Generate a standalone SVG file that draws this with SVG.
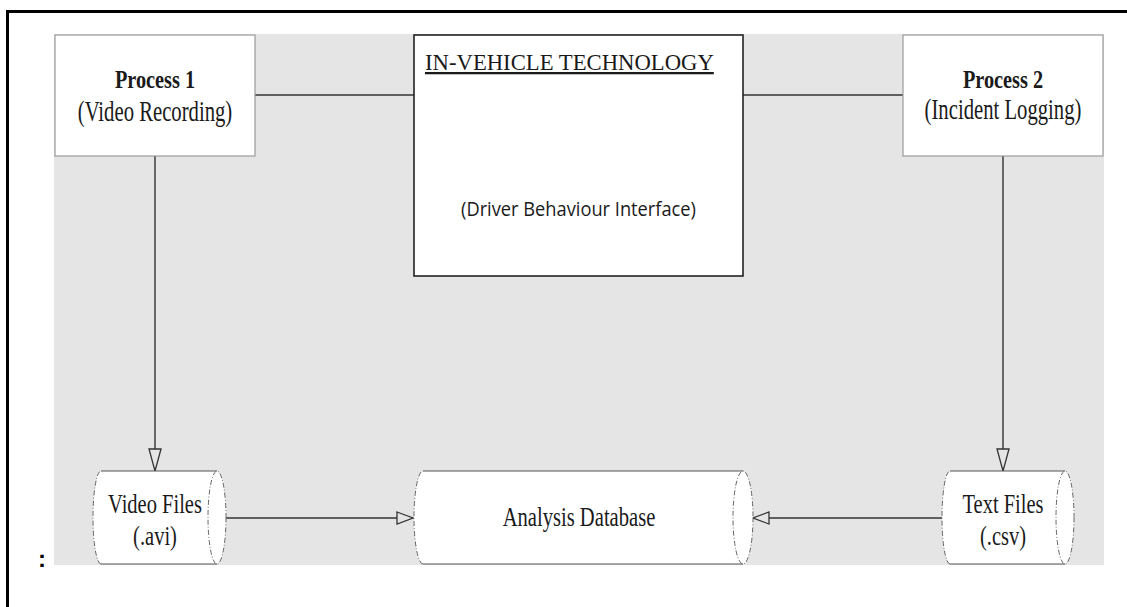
<svg xmlns="http://www.w3.org/2000/svg" width="1127" height="607" viewBox="0 0 1127 607">
<style>
.serif{font-family:"Liberation Serif","Times New Roman",serif;fill:#1a1a1a;text-anchor:middle}
.proc{fill:#fff;stroke:#9a9a9a;stroke-width:1.2}
.cylfill{fill:#fff;stroke:none}
.cyledge{fill:none;stroke:#555;stroke-width:1.2}
.cyldash{fill:none;stroke:#666;stroke-width:1;stroke-dasharray:5 2 1 2}
.conn{fill:none;stroke:#333;stroke-width:1.4}
</style>
<defs>
<marker id="arrV" markerUnits="userSpaceOnUse" markerWidth="24" markerHeight="14" refX="22" refY="6" orient="auto" overflow="visible">
<path d="M0,0 L22,6 L0,12 Z" fill="#e5e5e5" stroke="#333" stroke-width="1.3"/>
</marker>
<marker id="arrH" markerUnits="userSpaceOnUse" markerWidth="18" markerHeight="14" refX="16" refY="6" orient="auto" overflow="visible">
<path d="M0,0 L16,6 L0,12 Z" fill="#e5e5e5" stroke="#333" stroke-width="1.3"/>
</marker>
</defs>
<rect x="0" y="0" width="1127" height="607" fill="#fff"/>
<rect x="7.5" y="11.5" width="1135" height="610" fill="none" stroke="#000" stroke-width="3"/>
<rect x="54" y="34" width="1050" height="531" fill="#e5e5e5"/>
<text x="42" y="567" font-family="Liberation Sans, Arial, sans-serif" font-size="24" font-weight="bold" fill="#000" text-anchor="middle">:</text>

<g id="connectors">
<line class="conn" x1="255" y1="95" x2="414" y2="95"/>
<line class="conn" x1="743" y1="95" x2="903" y2="95"/>
<line class="conn" x1="155" y1="156" x2="155" y2="471" marker-end="url(#arrV)"/>
<line class="conn" x1="1003" y1="156" x2="1003" y2="471" marker-end="url(#arrV)"/>
<line class="conn" x1="226" y1="518" x2="413" y2="518" marker-end="url(#arrH)"/>
<line class="conn" x1="942" y1="518" x2="753" y2="518" marker-end="url(#arrH)"/>
</g>

<g id="process1">
<rect class="proc" x="55" y="35" width="200" height="121"/>
<text class="serif" transform="translate(155 87.5) scale(1 1.2)" font-size="20.3" font-weight="bold">Process 1</text>
<text class="serif" transform="translate(155 121) scale(1 1.45)" font-size="20.7">(Video Recording)</text>
</g>

<g id="ivt">
<rect x="414" y="35" width="329" height="241" fill="#fff" stroke="#222" stroke-width="1.6"/>
<text x="425" y="70" font-family="Liberation Serif, 'Times New Roman', serif" font-size="22.7" fill="#1a1a1a" text-decoration="underline">IN-VEHICLE TECHNOLOGY</text>
<text x="578.5" y="216" font-family="'Open Sans','Noto Sans',sans-serif" font-size="20" fill="#1a1a1a" text-anchor="middle" textLength="235" lengthAdjust="spacingAndGlyphs">(Driver Behaviour Interface)</text>
</g>

<g id="process2">
<rect class="proc" x="903" y="35" width="200" height="121"/>
<text class="serif" transform="translate(1003 88) scale(1 1.2)" font-size="20.3" font-weight="bold">Process 2</text>
<text class="serif" transform="translate(1003 119) scale(1 1.45)" font-size="20.7">(Incident Logging)</text>
</g>

<g id="videofiles">
<path class="cylfill" d="M101,471 L217,471 A9,46.5 0 0 1 217,564 L101,564 A8,46.5 0 0 1 101,471 Z"/>
<line class="cyledge" x1="101" y1="471" x2="217" y2="471"/>
<line class="cyledge" x1="101" y1="564" x2="217" y2="564"/>
<path class="cyldash" d="M101,564 A8,46.5 0 0 1 101,471"/>
<ellipse class="cyldash" cx="217" cy="517.5" rx="9" ry="46.5"/>
<text class="serif" transform="translate(155 513) scale(1 1.35)" font-size="20.5">Video Files</text>
<text class="serif" transform="translate(155 545) scale(1 1.35)" font-size="20.5">(.avi)</text>
</g>

<g id="analysisdb">
<path class="cylfill" d="M423,471 L743,471 A10,46.5 0 0 1 743,564 L423,564 A9,46.5 0 0 1 423,471 Z"/>
<line class="cyledge" x1="423" y1="471" x2="743" y2="471"/>
<line class="cyledge" x1="423" y1="564" x2="743" y2="564"/>
<path class="cyldash" d="M423,564 A9,46.5 0 0 1 423,471"/>
<ellipse class="cyldash" cx="743" cy="517.5" rx="10" ry="46.5"/>
<text class="serif" transform="translate(579 526) scale(1 1.35)" font-size="20.6">Analysis Database</text>
</g>

<g id="textfiles">
<path class="cylfill" d="M950,471 L1065,471 A9,46.5 0 0 1 1065,564 L950,564 A8,46.5 0 0 1 950,471 Z"/>
<line class="cyledge" x1="950" y1="471" x2="1065" y2="471"/>
<line class="cyledge" x1="950" y1="564" x2="1065" y2="564"/>
<path class="cyldash" d="M950,564 A8,46.5 0 0 1 950,471"/>
<ellipse class="cyldash" cx="1065" cy="517.5" rx="9" ry="46.5"/>
<text class="serif" transform="translate(1003 513) scale(1 1.35)" font-size="20.5">Text Files</text>
<text class="serif" transform="translate(1003 545) scale(1 1.35)" font-size="20.5">(.csv)</text>
</g>
</svg>
